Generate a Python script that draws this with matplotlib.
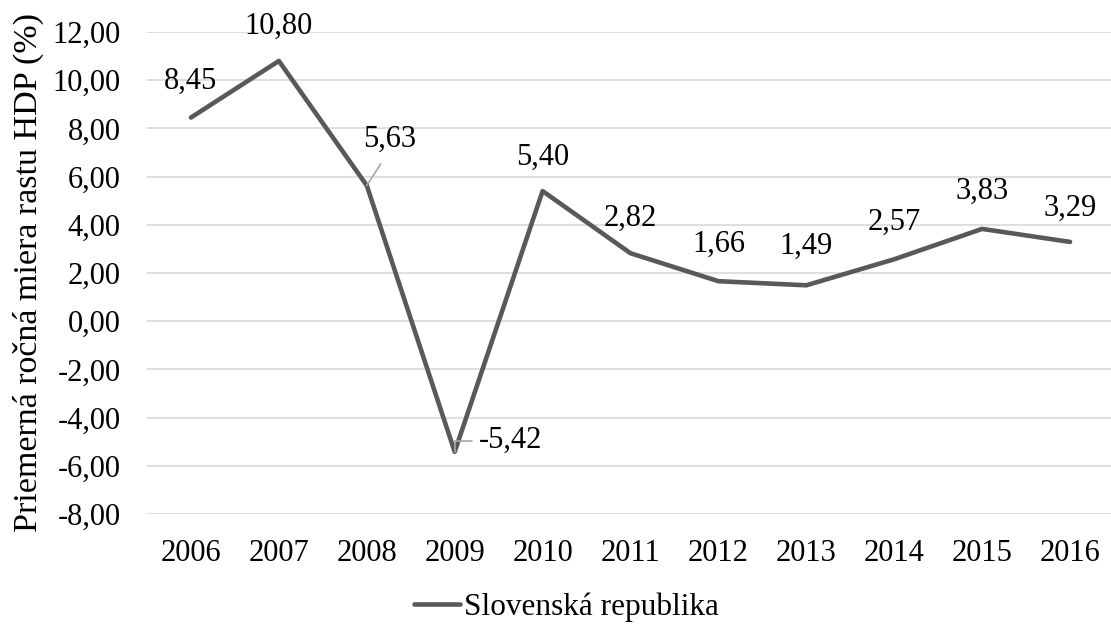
import matplotlib
matplotlib.use("Agg")
import matplotlib.pyplot as plt
from matplotlib.ticker import FuncFormatter

# Priemerná ročná miera rastu HDP, Slovenská republika
years = ["2006", "2007", "2008", "2009", "2010", "2011", "2012", "2013", "2014", "2015", "2016"]
growth = [8.45, 10.80, 5.63, -5.42, 5.40, 2.82, 1.66, 1.49, 2.57, 3.83, 3.29]

# label offsets in pixels (as placed in the original chart)
label_offsets = [(0, 36), (0, 35), (23, 46), (56, 11), (0, 34), (0, 35),
                 (0, 37), (0, 39), (0, 37), (0, 38), (0, 34)]

plt.rcParams["font.family"] = ["Liberation Serif", "DejaVu Serif"]
FS = 22

fig = plt.figure(figsize=(11.11, 6.31), dpi=100)
ax = fig.add_axes([147 / 1111, 117 / 631, 967 / 1111, 482 / 631])

x = list(range(len(years)))
line, = ax.plot(x, growth, color="#595959", lw=3.3, solid_capstyle="round",
                label="Slovenská republika", zorder=3)

for i, v in enumerate(growth):
    dx, dy = label_offsets[i]
    txt = f"{v:.2f}".replace(".", ",")
    kw = {}
    if i == 2:
        kw["arrowprops"] = dict(arrowstyle="-", color="#a6a6a6", lw=1.2,
                                shrinkA=6, shrinkB=0, relpos=(0.45, 0))
    elif i == 3:
        kw["arrowprops"] = dict(arrowstyle="-", color="#a6a6a6", lw=1.2,
                                shrinkA=3, shrinkB=0, relpos=(0, 0.5),
                                connectionstyle="angle,angleA=180,angleB=90,rad=0")
    ax.annotate(txt, (i, v), xytext=(dx, dy), textcoords="offset pixels",
                ha="center", va="center", fontsize=FS, zorder=4, **kw)

ax.set_xlim(-0.5, len(years) - 0.5)
ax.set_ylim(-8, 12)
ax.set_yticks(range(-8, 13, 2))
ax.yaxis.set_major_formatter(FuncFormatter(lambda v, p: f"{v:.2f}".replace(".", ",")))
ax.set_xticks(x)
ax.set_xticklabels(years)
ax.tick_params(axis="both", length=0, labelsize=FS)
ax.tick_params(axis="y", pad=19)
ax.tick_params(axis="x", pad=18)
ax.grid(axis="y", color="#d9d9d9", lw=1.2)
ax.set_axisbelow(True)
for s in ax.spines.values():
    s.set_visible(False)

fig.text(28 / 1111, 1 - 272 / 631, "Priemerná ročná miera rastu HDP (%)",
         rotation=90, ha="center", va="center", fontsize=24.5)

fig.legend(handles=[line], loc="center", bbox_to_anchor=(566 / 1111, 1 - 607 / 631),
           frameon=False, fontsize=22.5, handlelength=1.5, handletextpad=0.1)

fig.savefig("out.png", dpi=100)
